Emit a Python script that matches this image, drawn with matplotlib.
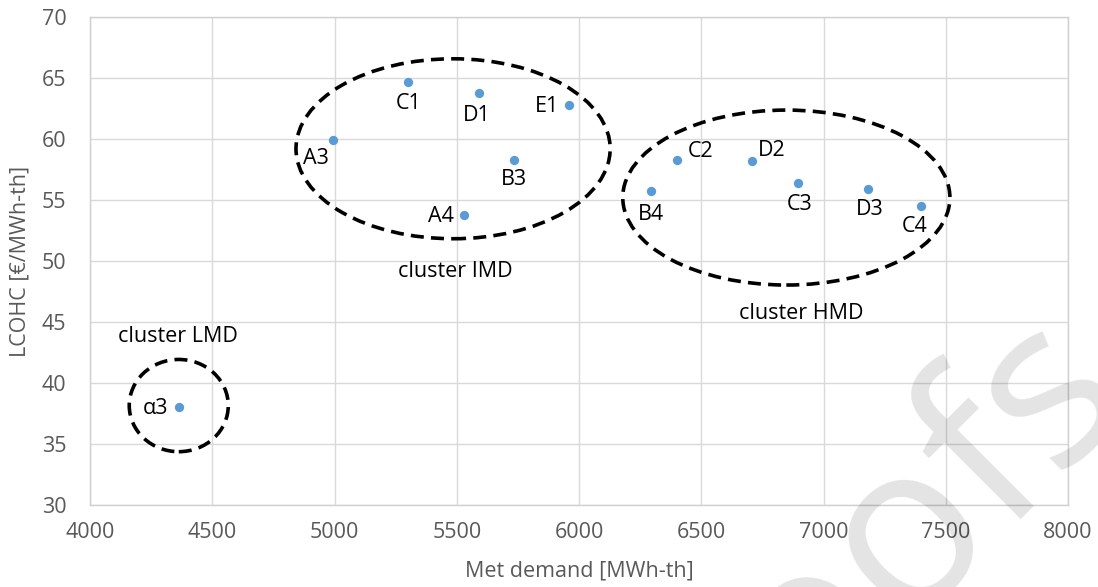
import matplotlib
matplotlib.use("Agg")
import matplotlib.pyplot as plt
from matplotlib.patches import Ellipse

# ---- data ----
labels = ["A3", "C1", "D1", "E1", "B3", "A4", "B4", "C2", "D2", "C3", "D3", "C4", "α3"]
met_demand = [4995, 5302, 5590, 5960, 5733, 5529, 6294, 6399, 6706, 6894, 7182, 7400, 4364]
lcohc = [59.9, 64.7, 63.8, 62.8, 58.3, 53.8, 55.7, 58.3, 58.2, 56.4, 55.9, 54.5, 38.0]

cluster_names = ["cluster IMD", "cluster HMD", "cluster LMD"]
cluster_cx = [5485, 6848, 4363]
cluster_cy = [59.2, 55.2, 38.15]
cluster_w = [1285, 1338, 405]
cluster_h = [14.75, 14.34, 7.56]
cluster_label_x = [5493, 6909, 4360]
cluster_label_y = [48.69, 45.25, 43.39]

x_ticks = [4000, 4500, 5000, 5500, 6000, 6500, 7000, 7500, 8000]
y_ticks = [30, 35, 40, 45, 50, 55, 60, 65, 70]

# label offsets in pixels (dx, dy of baseline)
label_dx = [-17, 0, -2, -22, 0, -23, 0, 24, 20, 2, 2, -7, -23]
label_dy = [-24, -27, -28, -7, -25, -7, -29, 3, 5, -27, -26, -26, -7]

FONT = ["Open Sans", "DejaVu Sans"]
plt.rcParams["font.family"] = FONT

fig = plt.figure(figsize=(10.98, 5.87), dpi=100)
W, H = 1098, 587
ax = fig.add_axes([90 / W, 1 - 505 / H, (1068 - 90) / W, (505 - 17) / H])

ax.set_xlim(4000, 8000)
ax.set_ylim(30, 70)
ax.set_xticks(x_ticks)
ax.set_yticks(y_ticks)
ax.grid(True, color="#d9d9d9", linewidth=1.0)
ax.set_axisbelow(True)
for sp in ax.spines.values():
    sp.set_color("#d0d0d0")
    sp.set_linewidth(1.0)
ax.tick_params(length=0, labelsize=15.5, labelcolor="#595959")
ax.tick_params(axis="x", pad=12)
ax.tick_params(axis="y", pad=17)

ax.scatter(met_demand, lcohc, s=45, color="#5B9BD5", zorder=3, linewidths=0)

for lab, x, y, dx, dy in zip(labels, met_demand, lcohc, label_dx, label_dy):
    ax.annotate(lab, (x, y), xytext=(dx, dy), textcoords="offset pixels",
                ha="center", va="baseline", fontsize=15.5, color="black", zorder=4)

for name, cx, cy, w, h, lx, ly in zip(cluster_names, cluster_cx, cluster_cy, cluster_w,
                                        cluster_h, cluster_label_x, cluster_label_y):
    e = Ellipse((cx, cy), w, h, fill=False, edgecolor="black", linewidth=2.6,
                linestyle=(0, (3.6, 2.0)), zorder=2)
    ax.add_patch(e)
    ax.text(lx, ly, name, ha="center", va="baseline", fontsize=15.5, color="black")

ax.set_xlabel("Met demand [MWh-th]", fontsize=15.5, color="#595959", labelpad=4)
ax.set_ylabel("LCOHC [€/MWh-th]", fontsize=15.5, color="#595959", labelpad=4)
ax.xaxis.set_label_coords(0.5, -(571 - 505) / (505 - 17), transform=ax.transAxes)
ax.xaxis.label.set_va("center")
ax.yaxis.set_label_coords(-(90 - 20) / (1068 - 90), 0.5, transform=ax.transAxes)
ax.yaxis.label.set_va("center")

# watermark
fig.text(1141 / W, 1 - 418 / H, "Journal Pre-proofs", fontsize=165, rotation=45,
         rotation_mode="anchor", ha="right", va="baseline", color="black", alpha=0.11,
         zorder=10)

fig.savefig("out.png", dpi=100, facecolor="white")
